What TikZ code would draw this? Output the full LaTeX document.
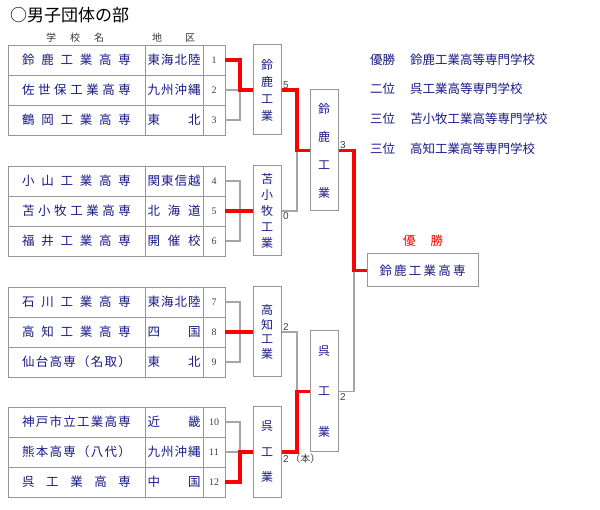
\documentclass[tikz,border=0pt]{standalone}
\usepackage{fontspec}
\setmainfont{Liberation Serif}
\setsansfont{Liberation Sans}
\newfontfamily\cjk{Noto Sans CJK JP}

\definecolor{kanji}{RGB}{25,25,135}
\definecolor{rule}{RGB}{150,150,150}
\definecolor{link}{RGB}{165,165,165}
\definecolor{winred}{RGB}{255,0,0}

% spread the characters of a word over a fixed width
\def\spreadA#1#2{#1\ifx#2\relax\else\hfil\expandafter\spreadA\fi#2}
\newcommand{\spreadtext}[2]{\makebox[#1][s]{\expandafter\spreadA#2\relax}}

\begin{document}
\begin{tikzpicture}[x=1pt,y=-1pt,
    cell/.style={draw=rule,line width=0.9pt,minimum height=30,inner sep=0,
        text=kanji,font=\cjk\fontsize{12.5}{14}\selectfont},
    numcell/.style={cell,minimum width=22,text=black!75,
        font=\rmfamily\fontsize{10}{11}\selectfont},
    vbox/.style={draw=rule,line width=1pt,minimum width=28,inner sep=0,
        align=center,text=kanji,font=\cjk\fontsize{12}{#1}\selectfont},
    score/.style={inner sep=1.5pt,text=black!75,
        font=\sffamily\fontsize{10}{11}\selectfont},
    head/.style={inner sep=0,text=black!80,font=\cjk\fontsize{10}{11}\selectfont},
    rank/.style={anchor=west,inner sep=0,text=kanji,
        font=\cjk\fontsize{12.5}{14}\selectfont},
    lose/.style={draw=link,line width=1.3pt},
    win/.style={draw=winred,line width=3.2pt}]
    \useasboundingbox (0,0) rectangle (600,510);

    \node[anchor=west,inner sep=0,font=\cjk\fontsize{17}{20}\selectfont]
        (title) at (10,15) {○男子団体の部};
    \node[head] (hname) at (75,38) {\spreadtext{58pt}{学校名}};
    \node[head] (hreg) at (173.5,38) {\spreadtext{43pt}{地区}};

    % Table of schools.
    \foreach \yy/\sch/\reg/\num in {
        60/鈴鹿工業高専/東海北陸/1,
        90/佐世保工業高専/九州沖縄/2,
        120/鶴岡工業高専/東北/3,
        181/小山工業高専/関東信越/4,
        211/苫小牧工業高専/北海道/5,
        241/福井工業高専/開催校/6,
        302/石川工業高専/東海北陸/7,
        332/高知工業高専/四国/8,
        362/仙台高専（名取）/東北/9,
        422/神戸市立工業高専/近畿/10,
        452/熊本高専（八代）/九州沖縄/11,
        482/呉工業高専/中国/12}{
        \node[cell,minimum width=137] (sch\num) at (76.5,\yy)
            {\spreadtext{109pt}{\sch}};
        \node[cell,minimum width=58] (reg\num) at (174,\yy)
            {\spreadtext{53pt}{\reg}};
        \node[numcell] (n\num) at (214,\yy) {\num};
    }

    % Block winners, semi-finals and final.
    \node[vbox=17,minimum height=90] (w1) at (267,90) {鈴\\鹿\\工\\業};
    \node[vbox=15.8,minimum height=90] (w2) at (267,211) {苫\\小\\牧\\工\\業};
    \node[vbox=14.5,minimum height=90] (w3) at (267,332) {高\\知\\工\\業};
    \node[vbox=25.5,minimum height=90] (w4) at (267,452) {呉\\工\\業};
    \node[vbox=28,minimum height=121] (s1) at (324,150.5) {鈴\\鹿\\工\\業};
    \node[vbox=40.5,minimum height=121] (s2) at (324,391.5) {呉\\工\\業};
    \node[draw=rule,line width=1pt,minimum width=111,minimum height=33,
        inner sep=0,text=kanji,font=\cjk\fontsize{12.5}{14}\selectfont]
        (final) at (422.5,270.5) {\spreadtext{86pt}{鈴鹿工業高専}};
    \node[text=winred,inner sep=0,font=\cjk\fontsize{12.5}{14}\selectfont]
        (champ) at (423,241) {\spreadtext{40pt}{優勝}};

    \coordinate (j1) at (240,90);
    \coordinate (j2) at (240,211);
    \coordinate (j3) at (240,332);
    \coordinate (j4) at (240,452);
    \coordinate (j5) at (297,150.5);
    \coordinate (j6) at (297,391.5);
    \coordinate (j7) at (354,270.5);

    % Losing lines.
    \draw[lose] (n2.east) -- (j1);
    \draw[lose] (n3.east) -| (j1);
    \draw[lose] (n4.east) -| (j2);
    \draw[lose] (n6.east) -| (j2);
    \draw[lose] (n7.east) -| (j3);
    \draw[lose] (n9.east) -| (j3);
    \draw[lose] (n10.east) -| (j4);
    \draw[lose] (n11.east) -- (j4);
    \draw[lose] (w2.east) -| (j5);
    \draw[lose] (w3.east) -| (j6);
    \draw[lose] (s2.east) -| (j7);

    % Winning lines.
    \draw[win] (n1.east) -| (j1) -- (w1.west);
    \draw[win] (n5.east) -- (w2.west);
    \draw[win] (n8.east) -- (w3.west);
    \draw[win] (n12.east) -| (j4) -- (w4.west);
    \draw[win] (w1.east) -| (j5) -- (s1.west);
    \draw[win] (w4.east) -| (j6) -- (s2.west);
    \draw[win] (s1.east) -| (j7) -- (final.west);

    % Scores.
    \node[score,anchor=south west] (sc1) at (w1.east) {5};
    \node[score,anchor=north west] (sc2) at (w2.east) {0};
    \node[score,anchor=south west] (sc3) at (w3.east) {2};
    \node[score,anchor=north west] (sc4) at (w4.east)
        {2\,{\cjk\fontsize{10}{11}\selectfont （本）}};
    \node[score,anchor=south west] (sc5) at (s1.east) {3};
    \node[score,anchor=north west] (sc6) at (s2.east) {2};

    % Final ranking.
    \node[rank] (rank1) at (370,60)
        {\makebox[40pt][l]{優勝}鈴鹿工業高等専門学校};
    \node[rank] (rank2) at (370,89)
        {\makebox[40pt][l]{二位}呉工業高等専門学校};
    \node[rank] (rank3) at (370,119)
        {\makebox[40pt][l]{三位}苫小牧工業高等専門学校};
    \node[rank] (rank4) at (370,149)
        {\makebox[40pt][l]{三位}高知工業高等専門学校};
\end{tikzpicture}
\end{document}
